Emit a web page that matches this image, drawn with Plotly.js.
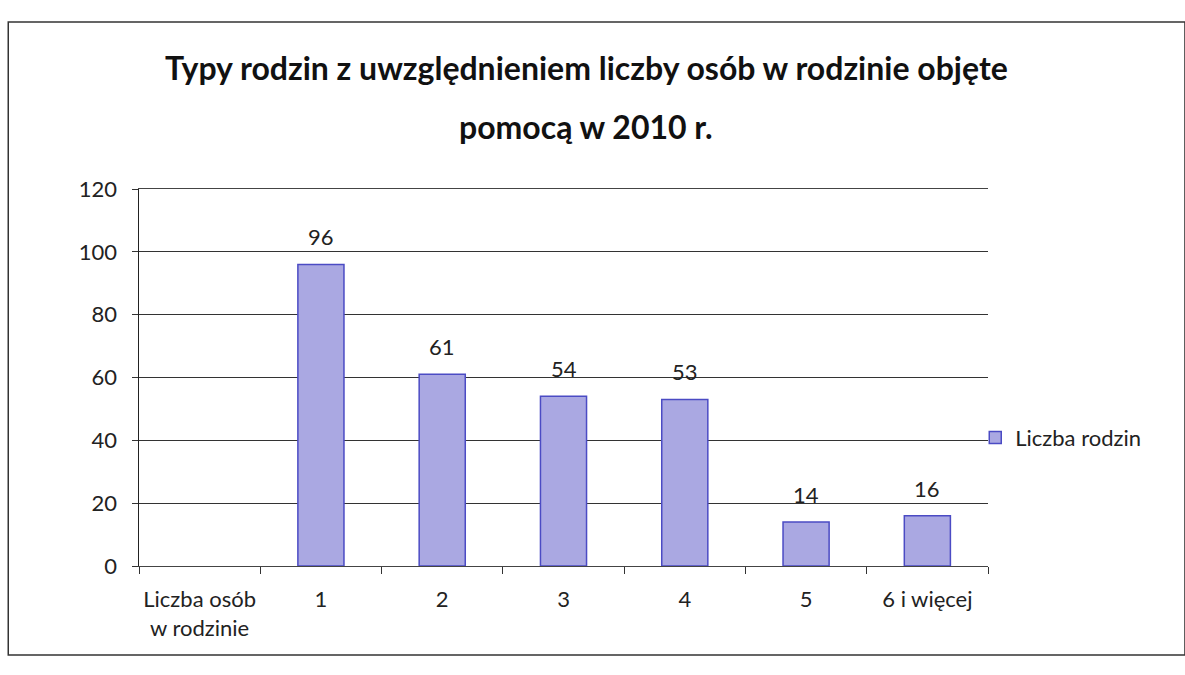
<!DOCTYPE html>
<html><head><meta charset="utf-8">
<script src="https://cdn.plot.ly/plotly-3.0.1.min.js"></script>
<style>html,body{margin:0;padding:0;background:#fff}#chart{width:1185px;height:675px}</style>
</head><body><div id="chart"></div>
<script>
const categories = ["Liczba osób<br>w rodzinie", "1", "2", "3", "4", "5", "6 i więcej"];
const values = [null, 96, 61, 54, 53, 14, 16];
const valueLabels = ["", "96", "61", "54", "53", "14", "16"];
const seriesName = "Liczba rodzin";
const titleLine1 = "Typy rodzin z uwzględnieniem liczby osób w rodzinie objęte";
const titleLine2 = "pomocą w 2010 r.";
const yTicks = [0, 20, 40, 60, 80, 100, 120];

const FONT = "Lato, 'Open Sans', sans-serif";

const trace = {
  type: "bar",
  x: categories,
  y: values,
  name: seriesName,
  marker: {color: "#aaa8e2", line: {color: "#4b4bc4", width: 1.5}},
  hoverinfo: "x+y",
  showlegend: true
};

const annotations = [];
categories.forEach((c, i) => {
  if (values[i] !== null) {
    annotations.push({x: c, y: values[i], xref: "x", yref: "y", text: valueLabels[i],
      showarrow: false, yanchor: "bottom", yshift: 12,
      font: {family: FONT, size: 22, color: "#222"}});
  }
});
annotations.push({xref: "paper", yref: "paper", x: 0.527, y: 1.322, xanchor: "center", yanchor: "middle",
  text: "<b>" + titleLine1 + "</b>", showarrow: false, font: {family: FONT, size: 32, color: "#111"}});
annotations.push({xref: "paper", yref: "paper", x: 0.527, y: 1.166, xanchor: "center", yanchor: "middle",
  text: "<b>" + titleLine2 + "</b>", showarrow: false, font: {family: FONT, size: 32, color: "#111"}});

const layout = {
  width: 1185, height: 675,
  margin: {l: 139, r: 197, t: 189, b: 109},
  paper_bgcolor: "#fff", plot_bgcolor: "#fff",
  font: {family: FONT, size: 22, color: "#222"},
  bargap: 0.62,
  xaxis: {
    type: "category",
    tickson: "boundaries",
    tickangle: 0,
    ticks: "outside", ticklen: 7, tickcolor: "#333",
    ticklabelstandoff: 14,
    showline: true, linecolor: "#444", linewidth: 1, mirror: true,
    showgrid: false,
    tickfont: {family: FONT, size: 22, color: "#222"}
  },
  yaxis: {
    range: [0, 120],
    tickvals: yTicks,
    ticktext: yTicks.map(String),
    ticks: "outside", ticklen: 6, tickcolor: "#333",
    ticklabelstandoff: 10,
    showline: true, linecolor: "#222", linewidth: 1.5,
    showgrid: true, gridcolor: "#333", gridwidth: 1,
    zeroline: false,
    tickfont: {family: FONT, size: 22, color: "#222"}
  },
  legend: {x: 0.985, y: 0.34, xanchor: "left", yanchor: "middle",
    font: {family: FONT, size: 22, color: "#222"}, bgcolor: "rgba(0,0,0,0)"},
  annotations: annotations,
  shapes: [{type: "rect", xref: "paper", yref: "paper", x0: -0.154, x1: 1.232, y0: -0.236, y1: 1.443,
    line: {color: "#333", width: 1.5}, fillcolor: "rgba(0,0,0,0)", layer: "below"}]
};

Plotly.newPlot("chart", [trace], layout, {displayModeBar: false, staticPlot: true});
</script></body></html>
